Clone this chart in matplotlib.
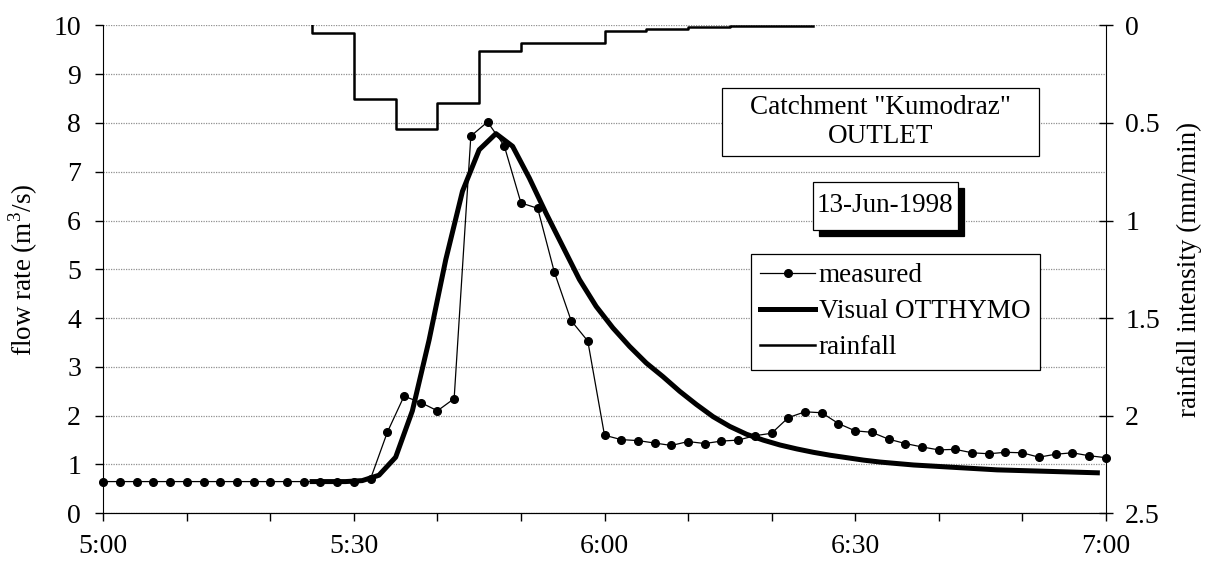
import matplotlib
matplotlib.use('Agg')
import matplotlib.pyplot as plt
from matplotlib.lines import Line2D
from matplotlib.patches import Rectangle
import numpy as np

plt.rcParams['font.family'] = ['Liberation Serif', 'DejaVu Serif']
plt.rcParams['mathtext.fontset'] = 'custom'
plt.rcParams['mathtext.rm'] = 'Liberation Serif'

# minutes after 5:00
meas_t = np.arange(0, 121, 2)
meas_q = [0.65, 0.65, 0.65, 0.65, 0.65, 0.65, 0.65, 0.65, 0.65, 0.65,
          0.65, 0.65, 0.65, 0.65, 0.65, 0.65, 0.71, 1.66, 2.40, 2.27,
          2.10, 2.35, 7.73, 8.02, 7.53, 6.36, 6.25, 4.94, 3.95, 3.53,
          1.60, 1.51, 1.49, 1.44, 1.39, 1.47, 1.43, 1.48, 1.50, 1.59,
          1.64, 1.96, 2.08, 2.06, 1.84, 1.69, 1.66, 1.52, 1.43, 1.36,
          1.30, 1.31, 1.24, 1.22, 1.25, 1.24, 1.15, 1.21, 1.24, 1.18,
          1.14]

sim_t = np.arange(25, 120, 2)
sim_q = [0.65, 0.65, 0.65, 0.67, 0.78, 1.15, 2.10, 3.55, 5.20, 6.60,
         7.45, 7.78, 7.52, 6.87, 6.15, 5.47, 4.79, 4.24, 3.80, 3.42,
         3.08, 2.80, 2.50, 2.23, 1.98, 1.78, 1.62, 1.50, 1.40, 1.32,
         1.25, 1.19, 1.14, 1.09, 1.05, 1.02, 0.99, 0.97, 0.95, 0.93,
         0.91, 0.89, 0.88, 0.87, 0.86, 0.85, 0.84, 0.83]

rain_t = [25, 25, 30, 35, 40, 45, 50, 55, 60, 65, 70, 75, 80, 85]
rain_i = [0.0, 0.04, 0.38, 0.53, 0.40, 0.13, 0.09, 0.09, 0.028, 0.017,
          0.008, 0.003, 0.002, 0.002]

xtick_pos = [0, 30, 60, 90, 120]
xtick_lab = ['5:00', '5:30', '6:00', '6:30', '7:00']

fig = plt.figure(figsize=(12.05, 5.63), dpi=100)
W, H = 1205, 563
ax = fig.add_axes([103.3 / W, 1 - 513.3 / H, (1105.7 - 103.3) / W, (513.3 - 25.3) / H])
ax2 = ax.twinx()

fs = 19.5
tfs = 20
ax.set_xlim(0, 120)
ax.set_ylim(0, 10)
ax.set_yticks(range(0, 11))
ax.set_xticks(xtick_pos)
ax.set_xticklabels(xtick_lab)
ax.set_xticks(range(0, 121, 10), minor=True)
ax.tick_params(axis='x', which='both', direction='out', length=6, width=1,
               labelsize=tfs, pad=9, color='black')
ax.tick_params(axis='y', direction='out', length=6, width=1, labelsize=tfs, pad=10)
ax.grid(axis='y', color='#909090', linestyle=(0, (1, 1)), linewidth=0.9)
ax.set_axisbelow(True)
for s in ['top', 'right']:
    ax.spines[s].set_visible(False)
ax.set_ylabel('flow rate (m$^3$/s)', fontsize=fs, labelpad=10)

ax.plot(sim_t, sim_q, color='black', lw=3.6, solid_joinstyle='round', zorder=3)
ax.plot(meas_t, meas_q, color='black', lw=0.9, marker='o', ms=5.5, zorder=4,
        clip_on=False)

ax2.set_ylim(2.5, 0)
ax2.set_yticks([0, 0.5, 1, 1.5, 2, 2.5])
ax2.set_yticklabels(['0', '0.5', '1', '1.5', '2', '2.5'])
ax2.tick_params(axis='y', direction='inout', length=10, width=1, labelsize=tfs, pad=9)
ax2.spines['top'].set_visible(False)
ax2.spines['left'].set_visible(False)
ax2.set_ylabel('rainfall intensity (mm/min)', fontsize=fs, labelpad=12)
ax2.plot(rain_t, rain_i, color='black', lw=1.8, drawstyle='steps-post')

handles = [
    Line2D([], [], color='black', lw=0.9, marker='o', ms=5.5),
    Line2D([], [], color='black', lw=3.6),
    Line2D([], [], color='black', lw=1.8),
]
leg = ax2.legend(handles, ['measured', 'Visual OTTHYMO', 'rainfall'],
                 loc='upper left', bbox_to_anchor=(751 / W, 1 - 254 / H),
                 bbox_transform=fig.transFigure, fontsize=fs,
                 frameon=True, fancybox=False, edgecolor='black',
                 framealpha=1, handlelength=2.0, handletextpad=0.15,
                 labelspacing=0.4, borderpad=0.35, borderaxespad=0)
leg.get_frame().set_linewidth(0.9)

# title boxes
fig.add_artist(Rectangle((722 / W, 1 - 156 / H), (1039 - 722) / W, (156 - 88) / H,
                         transform=fig.transFigure, facecolor='white',
                         edgecolor='black', lw=0.9, zorder=5))
fig.text(881 / W, 1 - 122 / H, 'Catchment "Kumodraz"\nOUTLET', ha='center',
         va='center', fontsize=fs, linespacing=1.2, zorder=6)

fig.add_artist(Rectangle((819 / W, 1 - 236 / H), (957.5 - 813) / W, (230 - 182) / H,
                         transform=fig.transFigure, facecolor='black',
                         edgecolor='black', lw=0.9, zorder=5))
fig.add_artist(Rectangle((813 / W, 1 - 230 / H), (957.5 - 813) / W, (230 - 182) / H,
                         transform=fig.transFigure, facecolor='white',
                         edgecolor='black', lw=0.9, zorder=5.5))
fig.text(885 / W, 1 - 206 / H, '13-Jun-1998', ha='center', va='center',
         fontsize=fs, zorder=6)

fig.savefig('out.png', dpi=100)
